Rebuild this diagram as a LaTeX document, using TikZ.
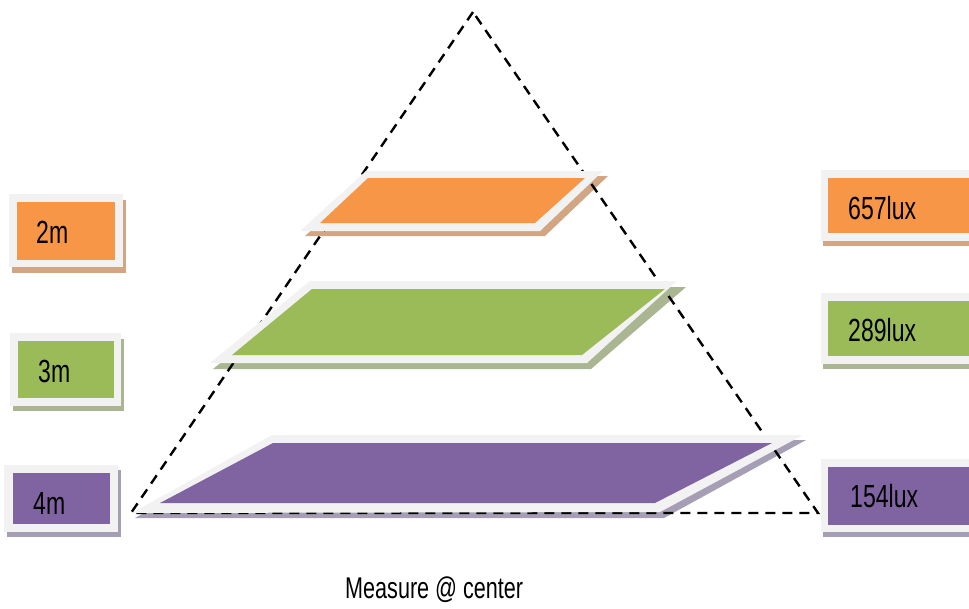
\documentclass[tikz,border=0pt]{standalone}
\usepackage{fontspec}
\setmainfont[FakeStretch=0.72]{Liberation Sans}
\definecolor{lorange}{HTML}{F79646}
\definecolor{lgreen}{HTML}{9BBB59}
\definecolor{lpurple}{HTML}{8064A2}
\definecolor{sorange}{HTML}{D2A682}
\definecolor{sgreen}{HTML}{AAB591}
\definecolor{spurple}{HTML}{A59EB4}
\definecolor{lframe}{HTML}{F2F2F2}
\begin{document}
\begin{tikzpicture}[x=1pt,y=-1pt,
  frame/.style={fill=lframe},
  lbl/.style={anchor=base west, inner sep=0pt, font=\fontsize{32}{36}\selectfont},
  tri/.style={dash pattern=on 10pt off 7pt, line width=2.4pt}]
\useasboundingbox (0,0) rectangle (969,608);
\clip (0,0) rectangle (969,608);
% shadows
\fill[sorange] (305,236) -- (371,176) -- (608,176) -- (545,236) -- cycle;
\fill[sgreen] (213,369) -- (315,287) -- (686,287) -- (591,369) -- cycle;
\fill[spurple] (135,518) -- (276,440) -- (806,440) -- (664,518) -- cycle;
\fill[sorange] (12,200) rectangle (126,273);
\fill[sgreen] (13,339) rectangle (124,411);
\fill[spurple] (7,470) rectangle (121,537);
\fill[sorange] (823,175) rectangle (975,246);
\fill[sgreen] (823,298) rectangle (975,369);
\fill[spurple] (823,464) rectangle (975,537);
% triangle
\coordinate (apex) at (473,12);
\coordinate (bl) at (131,513);
\coordinate (br) at (818,513);
\draw[tri] (apex) -- (bl) -- (br) -- cycle;
% slabs
\fill[frame] (300,231) -- (366,171) -- (603,171) -- (540,231) -- cycle;
\fill[lorange] (320,223) -- (368,178) -- (585,178) -- (535,223) -- cycle;
\fill[frame] (210,363) -- (310,281) -- (677,281) -- (587,363) -- cycle;
\fill[lgreen] (232,355) -- (312,289) -- (665,289) -- (582,355) -- cycle;
\fill[frame] (132,513) -- (272,435) -- (803,435) -- (660,512) -- cycle;
\fill[lpurple] (160,503) -- (273,443) -- (772,443) -- (655,503) -- cycle;
% left boxes
\fill[frame] (9,194) rectangle (123,267);
\fill[lorange] (17,202) rectangle (115,260);
\node[lbl] (h2) at (36,243) {2m};
\fill[frame] (10,333) rectangle (121,406);
\fill[lgreen] (18,341) rectangle (114,398);
\node[lbl] (h3) at (38,382) {3m};
\fill[frame] (4,465) rectangle (118,532);
\fill[lpurple] (13,473) rectangle (110,524);
\node[lbl] (h4) at (33,514) {4m};
% right boxes
\fill[frame] (821,170) rectangle (975,241);
\fill[lorange] (828,178) rectangle (975,233);
\node[lbl] (lux657) at (848,219) {657lux};
\fill[frame] (821,293) rectangle (975,364);
\fill[lgreen] (828,301) rectangle (975,356);
\node[lbl] (lux289) at (848,341) {289lux};
\fill[frame] (821,459) rectangle (975,532);
\fill[lpurple] (828,467) rectangle (975,525);
\node[lbl] (lux154) at (850,507) {154lux};
% caption
\node[lbl, font=\fontsize{30}{34}\selectfont] (meas) at (345,598) {Measure @ center};
\end{tikzpicture}
\end{document}
